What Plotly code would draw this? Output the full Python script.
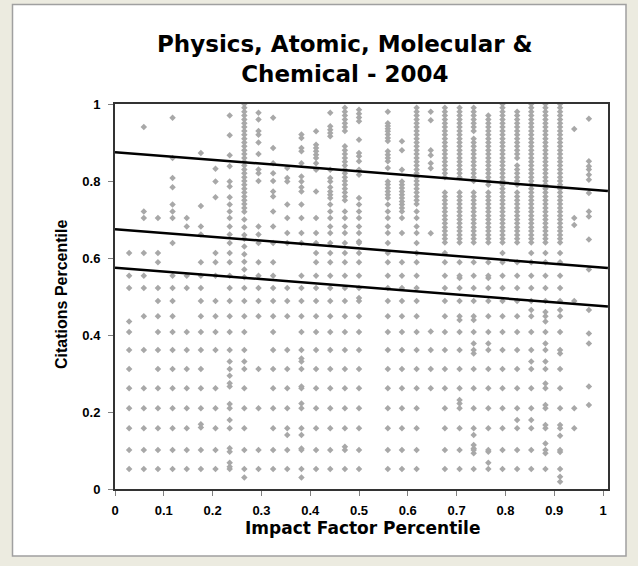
import plotly.graph_objects as go

# x position of each journal column (impact factor percentile)
COL_X = [0.029, 0.059, 0.088, 0.118, 0.147, 0.176, 0.206, 0.235, 0.265, 0.294,
         0.324, 0.353, 0.382, 0.412, 0.441, 0.471, 0.500, 0.559, 0.588,
         0.618, 0.647, 0.676, 0.706, 0.735, 0.765, 0.794, 0.824, 0.853, 0.882,
         0.912, 0.941, 0.971]

# citation percentiles of papers in each column
COL_Y = [
    [0.052,0.101,0.158,0.210,0.262,0.312,0.361,0.408,0.435,0.522,0.554,0.613],
    [0.052,0.101,0.158,0.210,0.262,0.361,0.449,0.522,0.554,0.613,0.704,0.721,0.94],
    [0.052,0.101,0.158,0.210,0.262,0.312,0.361,0.408,0.449,0.488,0.522,0.589,0.613,0.704],
    [0.052,0.101,0.158,0.210,0.262,0.312,0.361,0.408,0.449,0.488,0.522,0.554,0.639,0.704,0.721,0.739,0.784,0.808,0.860,0.964],
    [0.052,0.101,0.158,0.210,0.262,0.312,0.361,0.408,0.522,0.554,0.682,0.704],
    [0.052,0.101,0.160,0.168,0.210,0.262,0.312,0.361,0.408,0.449,0.488,0.522,0.554,0.589,0.661,0.682,0.735,0.873],
    [0.052,0.101,0.158,0.210,0.262,0.361,0.408,0.449,0.488,0.554,0.589,0.613,0.758,0.799,0.832],
    [0.052,0.058,0.068,0.097,0.106,0.158,0.179,0.210,0.221,0.266,0.275,0.294,0.312,0.331,0.361,0.408,0.449,0.488,0.522,0.554,0.589,0.613,0.639,0.661,0.682,0.704,0.721,0.739,0.758,0.786,0.799,0.838,0.867,0.919,0.970],
    [0.03,0.052,0.101,0.158,0.210,0.262,0.312,0.331,0.361,0.408,0.449,0.488,0.522,0.55,0.57,0.59,0.61,0.63,0.65,0.66,0.68,0.70,0.72,0.73,0.74,0.75,0.76,0.77,0.78,0.79,0.80,0.81,0.82,0.83,0.84,0.85,0.86,0.87,0.88,0.89,0.90,0.91,0.92,0.93,0.94,0.95,0.96,0.97,0.98,0.99,1.0],
    [0.052,0.101,0.210,0.312,0.449,0.488,0.522,0.554,0.589,0.639,0.661,0.682,0.80,0.82,0.83,0.87,0.90,0.92,0.93,0.96,0.977],
    [0.052,0.101,0.158,0.210,0.262,0.312,0.361,0.408,0.449,0.488,0.522,0.554,0.589,0.639,0.682,0.721,0.76,0.773,0.80,0.82,0.846,0.886,0.964],
    [0.052,0.101,0.140,0.158,0.210,0.262,0.312,0.361,0.449,0.488,0.522,0.639,0.665,0.704,0.739,0.799,0.808,0.834],
    [0.03,0.052,0.101,0.105,0.140,0.158,0.210,0.222,0.262,0.266,0.312,0.331,0.339,0.361,0.408,0.449,0.488,0.522,0.554,0.639,0.665,0.704,0.739,0.773,0.784,0.799,0.812,0.846,0.877,0.886,0.912,0.921],
    [0.052,0.101,0.158,0.210,0.262,0.312,0.361,0.408,0.449,0.488,0.522,0.554,0.589,0.613,0.639,0.665,0.704,0.773,0.829,0.846,0.860,0.868,0.877,0.886,0.894,0.929],
    [0.052,0.101,0.158,0.210,0.262,0.312,0.361,0.408,0.449,0.488,0.522,0.554,0.589,0.613,0.639,0.665,0.682,0.704,0.721,0.739,0.756,0.764,0.773,0.784,0.799,0.808,0.829,0.916,0.925,0.933,0.942,0.977],
    [0.052,0.101,0.11,0.158,0.210,0.262,0.312,0.361,0.408,0.449,0.488,0.522,0.554,0.589,0.613,0.639,0.665,0.682,0.704,0.721,0.75,0.76,0.77,0.78,0.79,0.80,0.81,0.82,0.83,0.84,0.85,0.86,0.87,0.88,0.89,0.93,0.94,0.95,0.96,0.97,0.98,0.99],
    [0.052,0.101,0.158,0.210,0.262,0.312,0.361,0.408,0.449,0.488,0.496,0.522,0.554,0.589,0.613,0.639,0.643,0.665,0.682,0.704,0.721,0.739,0.756,0.816,0.829,0.851,0.864,0.873,0.907,0.955,0.965,0.975,0.985],
    [0.052,0.101,0.158,0.210,0.262,0.312,0.361,0.408,0.449,0.488,0.522,0.554,0.589,0.613,0.639,0.665,0.682,0.704,0.721,0.739,0.756,0.764,0.773,0.782,0.791,0.799,0.834,0.851,0.86,0.868,0.877,0.904,0.912,0.921,0.929,0.936,0.943,0.95,0.98],
    [0.052,0.101,0.158,0.210,0.262,0.312,0.361,0.408,0.449,0.488,0.522,0.554,0.589,0.665,0.704,0.721,0.730,0.739,0.747,0.756,0.764,0.773,0.782,0.790,0.799,0.829,0.88,0.903],
    [0.052,0.101,0.158,0.210,0.262,0.312,0.361,0.408,0.449,0.488,0.522,0.554,0.589,0.613,0.639,0.665,0.682,0.704,0.721,0.74,0.75,0.76,0.77,0.78,0.79,0.80,0.81,0.82,0.83,0.84,0.85,0.86,0.87,0.88,0.89,0.90,0.91,0.92,0.93,0.94,0.95,0.96,0.97,0.98,0.99],
    [0.262,0.312,0.361,0.409,0.664,0.833,0.846,0.867,0.880,0.958,0.98],
    [0.052,0.101,0.158,0.210,0.262,0.312,0.361,0.408,0.449,0.488,0.522,0.554,0.589,0.613,0.64,0.65,0.66,0.67,0.68,0.69,0.70,0.71,0.72,0.73,0.74,0.75,0.76,0.77,0.81,0.82,0.83,0.84,0.85,0.86,0.87,0.88,0.89,0.90,0.91,0.92,0.93,0.94,0.95,0.96,0.97,0.98,0.99],
    [0.052,0.101,0.158,0.210,0.222,0.231,0.262,0.312,0.361,0.408,0.439,0.449,0.488,0.522,0.548,0.554,0.589,0.64,0.65,0.66,0.67,0.68,0.69,0.70,0.71,0.72,0.73,0.74,0.75,0.76,0.77,0.81,0.82,0.83,0.84,0.85,0.86,0.87,0.88,0.89,0.90,0.91,0.92,0.93,0.94,0.95,0.96,0.97,0.98,0.99],
    [0.052,0.093,0.101,0.105,0.114,0.140,0.158,0.210,0.262,0.312,0.352,0.361,0.378,0.408,0.439,0.449,0.488,0.522,0.554,0.589,0.64,0.65,0.66,0.67,0.68,0.69,0.70,0.71,0.72,0.73,0.74,0.75,0.76,0.77,0.80,0.81,0.82,0.83,0.84,0.85,0.86,0.87,0.88,0.89,0.90,0.91,0.93,0.94,0.95,0.96,0.97,0.98,0.99],
    [0.052,0.068,0.097,0.101,0.158,0.210,0.262,0.312,0.361,0.378,0.408,0.449,0.488,0.522,0.548,0.554,0.589,0.64,0.65,0.66,0.67,0.68,0.69,0.70,0.71,0.72,0.73,0.74,0.75,0.76,0.77,0.79,0.80,0.81,0.82,0.83,0.84,0.85,0.86,0.87,0.88,0.89,0.90,0.91,0.92,0.93,0.94,0.95,0.96,0.97],
    [0.052,0.101,0.158,0.210,0.262,0.312,0.361,0.408,0.449,0.488,0.522,0.554,0.589,0.613,0.64,0.65,0.66,0.67,0.68,0.69,0.70,0.71,0.72,0.73,0.74,0.75,0.76,0.77,0.78,0.79,0.80,0.81,0.82,0.83,0.84,0.85,0.86,0.87,0.88,0.89,0.90,0.91,0.92,0.93,0.94,0.95,0.96,0.97,0.98,0.99,1.0],
    [0.052,0.101,0.158,0.179,0.210,0.262,0.312,0.361,0.408,0.449,0.488,0.522,0.554,0.589,0.64,0.65,0.66,0.67,0.68,0.69,0.70,0.71,0.72,0.73,0.74,0.75,0.76,0.77,0.79,0.80,0.81,0.82,0.83,0.84,0.86,0.87,0.88,0.89,0.90,0.91,0.92,0.93,0.94,0.95,0.96,0.97,0.98],
    [0.052,0.101,0.158,0.179,0.210,0.262,0.312,0.331,0.361,0.408,0.449,0.465,0.488,0.522,0.554,0.589,0.613,0.64,0.65,0.66,0.67,0.68,0.69,0.70,0.71,0.72,0.73,0.74,0.75,0.76,0.77,0.78,0.79,0.80,0.81,0.82,0.83,0.84,0.85,0.86,0.87,0.88,0.89,0.90,0.91,0.92,0.93,0.94,0.95,0.96,0.97,0.98,0.99,1.0],
    [0.052,0.093,0.101,0.118,0.158,0.166,0.210,0.218,0.262,0.274,0.312,0.331,0.361,0.378,0.408,0.435,0.449,0.460,0.488,0.522,0.554,0.589,0.613,0.64,0.65,0.66,0.67,0.68,0.69,0.70,0.71,0.72,0.73,0.74,0.75,0.76,0.77,0.78,0.79,0.80,0.81,0.82,0.83,0.84,0.85,0.86,0.87,0.88,0.89,0.90,0.91,0.92,0.93,0.94,0.95,0.96,0.97,0.98,0.99,1.0],
    [0.019,0.032,0.052,0.096,0.101,0.138,0.158,0.166,0.210,0.262,0.312,0.352,0.361,0.408,0.449,0.465,0.488,0.522,0.554,0.589,0.613,0.64,0.65,0.66,0.67,0.68,0.69,0.70,0.71,0.72,0.73,0.74,0.75,0.76,0.77,0.78,0.79,0.80,0.81,0.82,0.83,0.84,0.85,0.86,0.87,0.88,0.89,0.90,0.91,0.92,0.93,0.94,0.95,0.96,0.97,0.98,0.99,1.0],
    [0.158,0.210,0.488,0.686,0.704,0.935],
    [0.218,0.266,0.378,0.404,0.465,0.570,0.648,0.708,0.721,0.769,0.803,0.816,0.830,0.838,0.851,0.962],
]

# three reference lines (y at x=0 and at right edge)
LINE_X = [0.0, 1.01]
LINE_TOP = [0.875, 0.774]
LINE_MID = [0.675, 0.574]
LINE_BOT = [0.575, 0.474]

X_TICKS = [0, 0.1, 0.2, 0.3, 0.4, 0.5, 0.6, 0.7, 0.8, 0.9, 1]
X_LABELS = ["0", "0.1", "0.2", "0.3", "0.4", "0.5", "0.6", "0.7", "0.8", "0.9", "1"]
Y_TICKS = [0, 0.2, 0.4, 0.6, 0.8, 1]
Y_LABELS = ["0", "0.2", "0.4", "0.6", "0.8", "1"]

xs, ys = [], []
for cx, col in zip(COL_X, COL_Y):
    for v in col:
        xs.append(cx)
        ys.append(v)

FONT = "Liberation Sans, Arial, sans-serif"
WIDE = "DejaVu Sans, Verdana, sans-serif"

fig = go.Figure()
fig.add_trace(go.Scatter(x=xs, y=ys, mode="markers",
                         marker=dict(symbol="diamond", size=5, color="#A8A8A8",
                                     line=dict(width=0)),
                         showlegend=False, hoverinfo="skip"))
for ln in (LINE_TOP, LINE_MID, LINE_BOT):
    fig.add_trace(go.Scatter(x=LINE_X, y=ln, mode="lines",
                             line=dict(color="black", width=2.5),
                             showlegend=False, hoverinfo="skip"))

L, R, T, B = 115, 30, 104, 77
PW, PH = 638 - L - R, 566 - T - B

def px(p):
    return (p - L) / PW

def py(p):
    return (T + PH - p) / PH

fig.update_layout(
    width=638, height=566,
    margin=dict(l=L, r=R, t=T, b=B, pad=0),
    paper_bgcolor="#ECEBE0", plot_bgcolor="white",
    font=dict(family=FONT, color="black"),
    shapes=[dict(type="rect", xref="paper", yref="paper",
                 x0=px(12.5), x1=px(626), y0=py(556), y1=py(4.5),
                 line=dict(color="#A0A0A0", width=1.5), fillcolor="white",
                 layer="below")],
    annotations=[
        dict(text="Physics, Atomic, Molecular &<br>Chemical - 2004",
             xref="paper", yref="paper", x=px(345), y=py(59),
             xanchor="center", yanchor="middle", showarrow=False,
             font=dict(size=23, family=WIDE, weight="bold")),
        dict(text="Impact Factor Percentile", xref="paper", yref="paper",
             x=px(362), y=py(528), xanchor="center", yanchor="middle",
             showarrow=False, font=dict(size=17, family=WIDE, weight="bold")),
        dict(text="Citations Percentile", xref="paper", yref="paper",
             x=px(61), y=py(295), xanchor="center", yanchor="middle",
             textangle=-90, showarrow=False,
             font=dict(size=16, family=FONT, weight="bold")),
    ],
    xaxis=dict(range=[0, 1.0102], tickvals=X_TICKS, ticktext=X_LABELS,
               showgrid=False, zeroline=False, showline=True, mirror=True,
               linecolor="#333333", linewidth=2, ticks="outside", ticklen=5,
               tickcolor="#808080", tickwidth=1, ticklabelstandoff=3,
               tickfont=dict(size=13, family=FONT, weight="bold")),
    yaxis=dict(range=[0, 1], tickvals=Y_TICKS, ticktext=Y_LABELS,
               showgrid=False, zeroline=False, showline=True, mirror=True,
               linecolor="#333333", linewidth=2, ticks="outside", ticklen=5,
               tickcolor="#808080", tickwidth=1, ticklabelstandoff=5,
               tickfont=dict(size=13, family=FONT, weight="bold")),
)

fig.write_html("out.html")
